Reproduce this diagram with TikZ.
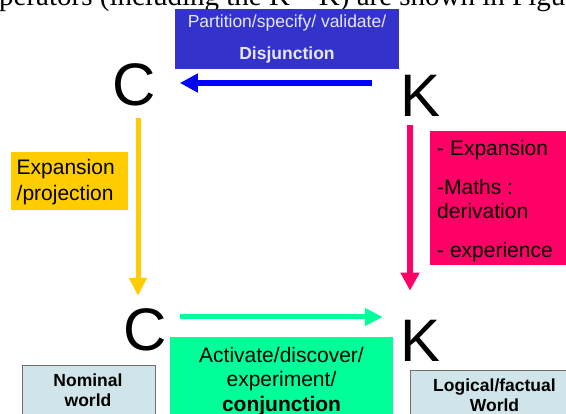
\documentclass[tikz,border=0pt]{standalone}
\usepackage{fontspec}
\setmainfont{Liberation Sans}
\newfontfamily\serifpage{Liberation Serif}
\usetikzlibrary{arrows.meta}
\definecolor{disbox}{HTML}{3333CC}
\definecolor{disline}{HTML}{0000FF}
\definecolor{distxt}{HTML}{E6E6FF}
\definecolor{yel}{HTML}{FFCC00}
\definecolor{pinkc}{HTML}{FF0066}
\definecolor{grn}{HTML}{00FF99}
\definecolor{lightb}{HTML}{CFE5EA}
\definecolor{lbborder}{HTML}{6E6E6E}
\tikzset{
  big/.style={font=\fontsize{60pt}{60pt}\selectfont, inner sep=0pt},
  conn/.style={line width=6pt, -{Triangle[length=18pt,width=18pt]}},
  worldbox/.style={fill=lightb, draw=lbborder, line width=1pt, anchor=north west, inner sep=0pt},
  worldtxt/.style={font=\fontsize{17.5pt}{20.5pt}\selectfont\bfseries, align=center, anchor=north, inner sep=0pt},
}
\begin{document}
\begin{tikzpicture}[x=1pt,y=-1pt]
\useasboundingbox (0,0) rectangle (566,414);
\clip (0,0) rectangle (566,414);
% page text (cut at the top edge)
\node[anchor=base west, inner sep=0pt, font=\serifpage\fontsize{29pt}{30pt}\selectfont] (pagetext) at (-1,6) {perators (including the K – K) are shown in Figu};
% letters
\node[big] (Ctop) at (134,85) {C};
\node[big] (Ktop) at (420.5,96) {K};
\node[big] (Cbot) at (145,330) {C};
\node[big] (Kbot) at (420.5,340.5) {K};
% boxes
\node[fill=disbox, text=distxt, minimum width=224pt, minimum height=60pt, inner sep=0pt,
      align=center, font=\fontsize{17.5pt}{32pt}\selectfont] (dis) at (287,39)
      {Partition/specify/ validate/\\\textbf{Disjunction}};
\node[fill=yel, minimum width=117pt, minimum height=58pt, inner sep=0pt, anchor=north west] (exp) at (11,152) {};
\node[anchor=west, inner sep=0pt, align=left, font=\fontsize{21pt}{26pt}\selectfont] (exptxt) at (16.5,182) {Expansion\\/projection};
\node[fill=pinkc, minimum width=140pt, minimum height=134pt, inner sep=0pt, anchor=north west] (der) at (430,131) {};
\node[anchor=north west, inner sep=0pt, align=left, font=\fontsize{21pt}{24pt}\selectfont] (dertxt) at (437,140)
      {- Expansion\\[15pt]-Maths :\\derivation\\[15pt]- experience};
\node[fill=grn, minimum width=223pt, minimum height=90pt, inner sep=0pt, anchor=north west] (con) at (170,337) {};
\node[anchor=north, inner sep=0pt, align=center, font=\fontsize{21pt}{24.5pt}\selectfont] (contxt) at (281.5,347)
      {Activate/discover/\\experiment/\\\textbf{conjunction}};
\node[worldbox, minimum width=133pt, minimum height=70pt] (nom) at (22,365) {};
\node[worldtxt] (nomtxt) at (88,373.5) {Nominal\\world};
\node[worldbox, minimum width=170pt, minimum height=70pt] (log) at (410,370) {};
\node[worldtxt, font=\fontsize{17.5pt}{20pt}\selectfont\bfseries] (logtxt) at (494.5,378.5) {Logical/factual\\World};
% connectors
\draw[conn, disline, shorten <=28.5pt, shorten >=24pt] (Ktop.west |- 0,83) -- (Ctop.east |- 0,83);
\draw[conn, yel, line width=5pt, -{Triangle[length=18pt,width=17pt]}, shorten <=11.7pt, shorten >=12.7pt]
      (Ctop.south -| 138,0) -- (Cbot.north -| 138,0);
\draw[conn, pinkc, line width=5.5pt, shorten <=8.5pt, shorten >=29pt] (Ktop.south -| 410,0) -- (Kbot.north -| 410,0);
\draw[conn, grn, line width=5pt, -{Triangle[length=18pt,width=17pt]}, shorten <=13.3pt, shorten >=17.5pt]
      (Cbot.east |- 0,317) -- (Kbot.west |- 0,317);
\end{tikzpicture}
\end{document}
